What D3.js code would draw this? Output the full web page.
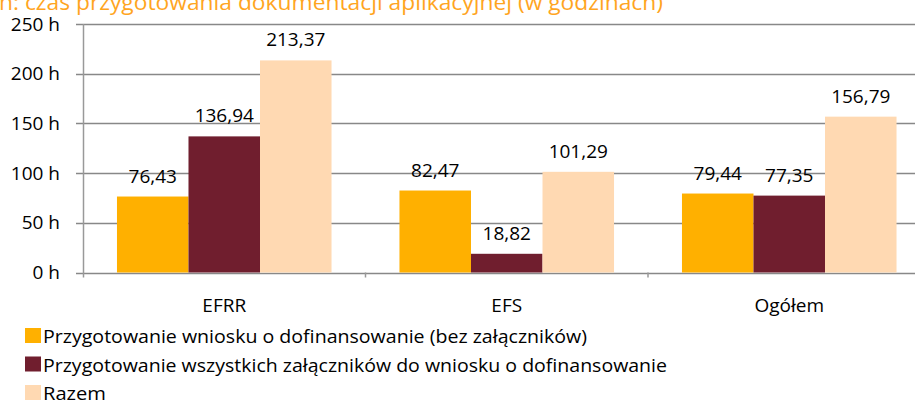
<!DOCTYPE html>
<html>
<head>
<meta charset="utf-8">
<script src="https://cdn.jsdelivr.net/npm/d3@7"></script>
<style>
  html, body { margin: 0; padding: 0; background: #fff; }
  svg { display: block; font-family: "Open Sans", sans-serif; }
</style>
</head>
<body>
<svg id="chart" width="915" height="401"></svg>
<script>
// ---------- data ----------
const categories = ["EFRR", "EFS", "Ogółem"];
const seriesNames = [
  "Przygotowanie wniosku o dofinansowanie (bez załączników)",
  "Przygotowanie wszystkich załączników do wniosku o dofinansowanie",
  "Razem"
];
const wniosek = [76.43, 82.47, 79.44];
const zalaczniki = [136.94, 18.82, 77.35];
const razem = [213.37, 101.29, 156.79];
const yTicks = [0, 50, 100, 150, 200, 250];
const titleText = "n: czas przygotowania dokumentacji aplikacyjnej (w godzinach)";

const colors = ["#FFB000", "#701E2E", "#FFD9B2"];
const seriesValues = [wniosek, zalaczniki, razem];

// ---------- layout ----------
const svg = d3.select("#chart");
const W = 915;
const plotLeft = 83, plotRight = 930.5, plotTop = 24, plotBottom = 272.5;

const pl = d3.formatLocale({ decimal: ",", thousands: " ", grouping: [3], currency: ["", " zł"] });
const fmt = pl.format(".2f");

const x0 = d3.scaleBand().domain(categories).range([plotLeft, plotRight]).padding(0);
const x1 = d3.scaleBand().domain(d3.range(seriesNames.length))
  .range([0, x0.step()]).paddingInner(0).paddingOuter(0.475);
const y = d3.scaleLinear().domain([0, 250]).range([plotBottom, plotTop]);

// title (clipped at the top in the original)
svg.append("text")
  .attr("x", -1).attr("y", 10)
  .attr("fill", "#FFA51F")
  .style("font-size", "21px")
  .attr("textLength", 664)
  .attr("lengthAdjust", "spacingAndGlyphs")
  .text(titleText);

// gridlines
svg.append("g").selectAll("line")
  .data(yTicks)
  .join("line")
  .attr("x1", plotLeft - 7).attr("x2", W)
  .attr("y1", d => Math.round(y(d)) + 0.5).attr("y2", d => Math.round(y(d)) + 0.5)
  .attr("stroke", "#888")
  .attr("stroke-width", 1.6);

// y axis labels
const yAxis = svg.append("g")
  .attr("transform", `translate(${plotLeft},0)`)
  .call(d3.axisLeft(y).tickValues(yTicks).tickSize(0).tickPadding(23).tickFormat(d => d + " h"));
yAxis.select(".domain").remove();
yAxis.selectAll("text")
  .attr("fill", "#000")
  .style("font-size", "19px")
  .style("font-family", "'Open Sans', sans-serif");

// y axis line
svg.append("line")
  .attr("x1", plotLeft + 0.5).attr("x2", plotLeft + 0.5)
  .attr("y1", plotTop).attr("y2", plotBottom + 5)
  .attr("stroke", "#999").attr("stroke-width", 1.5);

// category ticks at band boundaries
svg.append("g").selectAll("line")
  .data(categories.slice(1))
  .join("line")
  .attr("x1", d => x0(d)).attr("x2", d => x0(d))
  .attr("y1", plotBottom).attr("y2", plotBottom + 5)
  .attr("stroke", "#999").attr("stroke-width", 1.5);

// bars
const groups = svg.append("g").selectAll("g")
  .data(categories)
  .join("g")
  .attr("transform", d => `translate(${x0(d)},0)`);

groups.selectAll("rect")
  .data((d, ci) => seriesValues.map((vals, si) => ({ si, v: vals[ci] })))
  .join("rect")
  .attr("x", d => x1(d.si))
  .attr("width", x1.bandwidth())
  .attr("y", d => y(d.v))
  .attr("height", d => plotBottom - y(d.v))
  .attr("fill", d => colors[d.si]);

groups.selectAll("text.val")
  .data((d, ci) => seriesValues.map((vals, si) => ({ si, v: vals[ci] })))
  .join("text")
  .attr("class", "val")
  .attr("x", d => x1(d.si) + x1.bandwidth() / 2)
  .attr("y", d => y(d.v) - 14)
  .attr("text-anchor", "middle")
  .attr("fill", "#000")
  .style("font-size", "19px")
  .text(d => fmt(d.v));

// x axis labels
const xAxis = svg.append("g")
  .attr("transform", `translate(0,${plotBottom})`)
  .call(d3.axisBottom(x0).tickSize(0).tickPadding(26));
xAxis.select(".domain").remove();
xAxis.selectAll("text")
  .attr("fill", "#000")
  .style("font-size", "19px")
  .style("font-family", "'Open Sans', sans-serif");

// legend
const legendWidths = [544, 624, 63];
const legend = svg.append("g").selectAll("g")
  .data(seriesNames)
  .join("g")
  .attr("transform", (d, i) => `translate(25,${328 + i * 28.5})`);

legend.append("rect")
  .attr("width", 16).attr("height", 15)
  .attr("fill", (d, i) => colors[i]);

legend.append("text")
  .attr("x", 18).attr("y", 15)
  .attr("fill", "#000")
  .style("font-size", "19px")
  .attr("textLength", (d, i) => legendWidths[i])
  .attr("lengthAdjust", "spacingAndGlyphs")
  .text(d => d);
</script>
</body>
</html>
